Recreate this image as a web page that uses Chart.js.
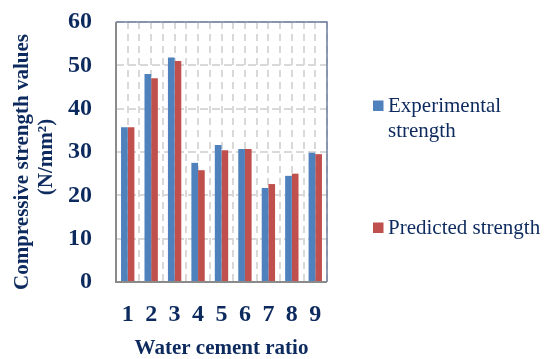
<!DOCTYPE html>
<html>
<head>
<meta charset="utf-8">
<script src="https://cdn.jsdelivr.net/npm/chart.js@4.4.0/dist/chart.umd.min.js"></script>
<style>
  html, body { margin: 0; padding: 0; background: #fff; }
  #wrap { width: 552px; height: 359px; }
</style>
</head>
<body>
<div id="wrap"><canvas id="chart" width="552" height="359"></canvas></div>
<script>
// data
var ratios = ['1', '2', '3', '4', '5', '6', '7', '8', '9'];
var experimental = [35.7, 48.0, 51.8, 27.5, 31.6, 30.7, 21.7, 24.5, 29.8];
var predicted = [35.7, 47.0, 51.0, 25.8, 30.4, 30.7, 22.6, 25.0, 29.5];
var seriesNames = ['Experimental strength', 'Predicted strength'];
var yMin = 0, yMax = 60, yStep = 10;
var xTitle = 'Water cement ratio';
var yTitle = ['Compressive strength values', '(N/mm\u00B2)'];

var navy = '#0d2a5e';
var serif = 'Liberation Serif';
var gridColor = '#d9d9d9';

// box round the plot area (top/right thin, left/bottom darker grey)
var frame = {
  id: 'frame',
  afterDatasetsDraw: function(chart) {
    var a = chart.chartArea, c = chart.ctx;
    c.save();
    c.strokeStyle = '#6d7d9c';
    c.lineWidth = 1.5;
    c.beginPath();
    c.moveTo(a.left, a.top);
    c.lineTo(a.right, a.top);
    c.lineTo(a.right, a.bottom);
    c.stroke();
    c.strokeStyle = '#8a8a8a';
    c.lineWidth = 2;
    c.beginPath();
    c.moveTo(a.left, a.top);
    c.lineTo(a.left, a.bottom);
    c.lineTo(a.right, a.bottom);
    c.stroke();
    c.restore();
  }
};

// rotated two-line y title
var yTitlePlugin = {
  id: 'yTitle',
  afterDraw: function(chart) {
    var c = chart.ctx;
    c.save();
    c.fillStyle = navy;
    c.font = 'bold 21px "' + serif + '"';
    c.textAlign = 'center';
    c.textBaseline = 'middle';
    var pos = [[23, 162], [47, 157]];
    for (var i = 0; i < yTitle.length; i++) {
      c.save();
      c.translate(pos[i][0], pos[i][1]);
      c.rotate(-Math.PI / 2);
      c.fillText(yTitle[i], 0, 0);
      c.restore();
    }
    c.restore();
  }
};

// legend on the right, long names wrap
var sideLegend = {
  id: 'sideLegend',
  afterDraw: function(chart) {
    var c = chart.ctx;
    var tops = [112, 234];
    c.save();
    c.font = '21px "' + serif + '"';
    c.textBaseline = 'alphabetic';
    c.textAlign = 'left';
    chart.data.datasets.forEach(function(ds, i) {
      var words = ds.label.split(' ');
      var lines = [], cur = '';
      words.forEach(function(w) {
        var t = cur ? cur + ' ' + w : w;
        if (c.measureText(t).width > 160 && cur) { lines.push(cur); cur = w; }
        else cur = t;
      });
      lines.push(cur);
      c.fillStyle = ds.backgroundColor;
      c.fillRect(373, tops[i] - 11.5, 10.5, 10.5);
      c.fillStyle = navy;
      lines.forEach(function(l, j) {
        c.fillText(l, 388, tops[i] + j * 24.5);
      });
    });
    c.restore();
  }
};

var ctx = document.getElementById('chart');
var barChart = new Chart(ctx, {
  type: 'bar',
  data: {
    labels: ratios,
    datasets: [{
      label: seriesNames[0],
      data: experimental,
      backgroundColor: '#4f81bd',
      xAxisID: 'x'
    }, {
      label: seriesNames[1],
      data: predicted,
      backgroundColor: '#c0504d',
      xAxisID: 'x'
    }]
  },
  options: {
    responsive: false,
    animation: false,
    categoryPercentage: 0.57,
    barPercentage: 1.0,
    layout: { padding: { left: 0, right: 225, top: 22, bottom: 0 } },
    plugins: {
      legend: { display: false },
      tooltip: { enabled: false }
    },
    scales: {
      x: {
        position: 'bottom',
        grid: {
          offset: true,
          color: gridColor,
          lineWidth: 2,
          drawTicks: false
        },
        border: { display: false, dash: [7, 5] },
        ticks: {
          color: navy,
          padding: 18,
          font: { family: serif, size: 24, weight: 'bold' }
        },
        title: {
          display: true,
          text: xTitle,
          color: navy,
          padding: { top: 0, bottom: 0 },
          font: { family: serif, size: 21, weight: 'bold', lineHeight: 1 }
        },
        afterFit: function(s) { s.height = 77; s.paddingLeft = 0; s.paddingRight = 0; }
      },
      x2: {
        position: 'top',
        grid: {
          offset: false,
          color: gridColor,
          lineWidth: 2,
          drawTicks: false
        },
        border: { display: false, dash: [7, 5] },
        ticks: { display: false },
        afterFit: function(s) { s.height = 0; s.paddingLeft = 0; s.paddingRight = 0; }
      },
      y: {
        min: yMin,
        max: yMax,
        ticks: {
          stepSize: yStep,
          color: navy,
          padding: 24,
          font: { family: serif, size: 24, weight: 'bold' }
        },
        grid: {
          color: gridColor,
          lineWidth: 2,
          drawTicks: false
        },
        border: { display: false, dash: [8, 4] },
        afterFit: function(s) { s.width = 116; s.paddingTop = 0; s.paddingBottom = 0; }
      }
    }
  },
  plugins: [frame, yTitlePlugin, sideLegend]
});
</script>
</body>
</html>
